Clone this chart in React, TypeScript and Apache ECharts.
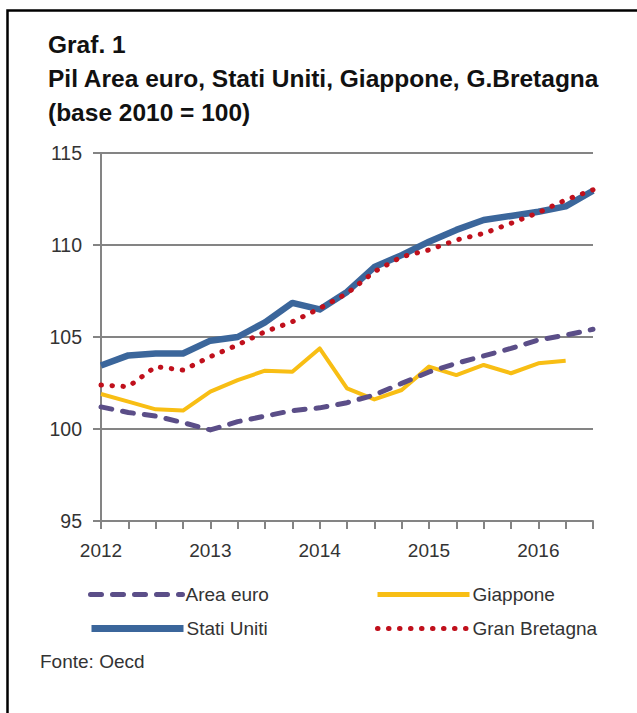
import React, { useEffect, useRef } from "react";
import * as echarts from "echarts";

const quarters = [
  "2012Q1", "2012Q2", "2012Q3", "2012Q4",
  "2013Q1", "2013Q2", "2013Q3", "2013Q4",
  "2014Q1", "2014Q2", "2014Q3", "2014Q4",
  "2015Q1", "2015Q2", "2015Q3", "2015Q4",
  "2016Q1", "2016Q2", "2016Q3",
];

const areaEuro = [101.2, 100.9, 100.7, 100.35, 99.95, 100.4, 100.7, 101.0, 101.15, 101.43, 101.85, 102.48, 103.1, 103.57, 103.97, 104.38, 104.84, 105.1, 105.42];
const statiUniti = [103.45, 104.0, 104.1, 104.1, 104.8, 105.0, 105.8, 106.85, 106.5, 107.45, 108.8, 109.45, 110.18, 110.82, 111.36, 111.58, 111.81, 112.1, 112.95];
const giappone = [101.9, 101.49, 101.07, 101.0, 102.03, 102.66, 103.17, 103.11, 104.38, 102.21, 101.61, 102.12, 103.39, 102.93, 103.48, 103.03, 103.57, 103.71, null];
const granBretagna = [102.39, 102.3, 103.39, 103.2, 103.93, 104.57, 105.29, 105.83, 106.55, 107.37, 108.55, 109.36, 109.73, 110.27, 110.63, 111.18, 111.76, 112.45, 113.0];

const yTicks = { min: 95, max: 115, interval: 5 };

const titleLines = [
  "Graf. 1",
  "Pil Area euro, Stati Uniti, Giappone, G.Bretagna",
  "(base 2010 = 100)",
];
const sourceText = "Fonte: Oecd";

const C_EURO = "#5b4e88";
const C_US = "#3b669b";
const C_JP = "#f8be14";
const C_UK = "#c0101c";
const GRAY = "#848484";
const TXT = "#333333";
const FONT = "'Liberation Sans', Arial, sans-serif";

export default function App() {
  const ref = useRef<HTMLDivElement>(null);
  useEffect(() => {
    if (!ref.current) return;
    const chart = echarts.init(ref.current, undefined, { renderer: "svg" });
    const legendCommon = {
      itemWidth: 92,
      itemHeight: 14,
      padding: 0,
      selectedMode: false,
      itemStyle: { opacity: 0, borderWidth: 0 },
      textStyle: { fontSize: 19, color: TXT, fontFamily: FONT, padding: [0, 0, 0, -2] },
    };
    chart.setOption({
      animation: false,
      backgroundColor: "#ffffff",
      textStyle: { fontFamily: FONT },
      title: {
        text: titleLines.join("\n"),
        left: 48,
        top: 27,
        padding: 0,
        textStyle: { fontSize: 24.5, fontWeight: "bold", color: "#111111", lineHeight: 34, fontFamily: FONT },
      },
      graphic: [
        {
          type: "polyline",
          shape: { points: [[7.5, 713], [7.5, 10.5], [637, 10.5]] },
          style: { stroke: "#000000", lineWidth: 2.5, fill: "none" },
          silent: true,
        },
        {
          type: "text",
          left: 40,
          top: 652,
          style: { text: sourceText, fontSize: 19, fill: TXT, fontFamily: FONT },
        },
      ],
      legend: [
        { ...legendCommon, data: ["Area euro"], left: 88, top: 585, lineStyle: { width: 5 } },
        { ...legendCommon, data: ["Giappone"], left: 375, top: 585, lineStyle: { width: 5 } },
        { ...legendCommon, data: ["Stati Uniti"], left: 88, top: 619, lineStyle: { width: 7 } },
        { ...legendCommon, data: ["Gran Bretagna"], left: 375, top: 619, lineStyle: { width: 5 } },
      ],
      grid: { left: 101, right: 44, top: 153, bottom: 192, containLabel: false },
      xAxis: {
        type: "category",
        data: quarters,
        boundaryGap: false,
        axisLine: { show: true, lineStyle: { color: GRAY, width: 2 } },
        axisTick: { show: true, interval: 0, length: 8, lineStyle: { color: GRAY, width: 2 } },
        axisLabel: {
          interval: 3,
          margin: 20,
          fontSize: 19,
          color: TXT,
          fontFamily: FONT,
          formatter: (v: string) => v.slice(0, 4),
        },
        splitLine: { show: false },
      },
      yAxis: {
        type: "value",
        min: yTicks.min,
        max: yTicks.max,
        interval: yTicks.interval,
        axisLine: { show: true, lineStyle: { color: GRAY, width: 2 } },
        axisTick: { show: true, length: 8, lineStyle: { color: GRAY, width: 2 } },
        axisLabel: { margin: 19, fontSize: 19.5, color: TXT, fontFamily: FONT },
        splitLine: { show: true, lineStyle: { color: GRAY, width: 2 } },
      },
      series: [
        {
          name: "Giappone",
          type: "line",
          data: giappone,
          symbol: "none",
          lineStyle: { color: C_JP, width: 4, join: "round" },
          itemStyle: { color: C_JP },
          z: 2,
        },
        {
          name: "Stati Uniti",
          type: "line",
          data: statiUniti,
          symbol: "none",
          lineStyle: { color: C_US, width: 6.5, join: "round" },
          itemStyle: { color: C_US },
          z: 3,
        },
        {
          name: "Area euro",
          type: "line",
          data: areaEuro,
          symbol: "none",
          lineStyle: { color: C_EURO, width: 5, type: [11, 11], cap: "round", join: "round" },
          itemStyle: { color: C_EURO },
          z: 4,
        },
        {
          name: "Gran Bretagna",
          type: "line",
          data: granBretagna,
          symbol: "none",
          lineStyle: { color: C_UK, width: 5, type: [0.5, 10.5], cap: "round" },
          itemStyle: { color: C_UK },
          z: 5,
        },
      ],
    });
    return () => chart.dispose();
  }, []);
  return (
    <div
      ref={ref}
      style={{ position: "fixed", left: 0, top: 0, width: 637, height: 713, background: "#fff" }}
    />
  );
}
